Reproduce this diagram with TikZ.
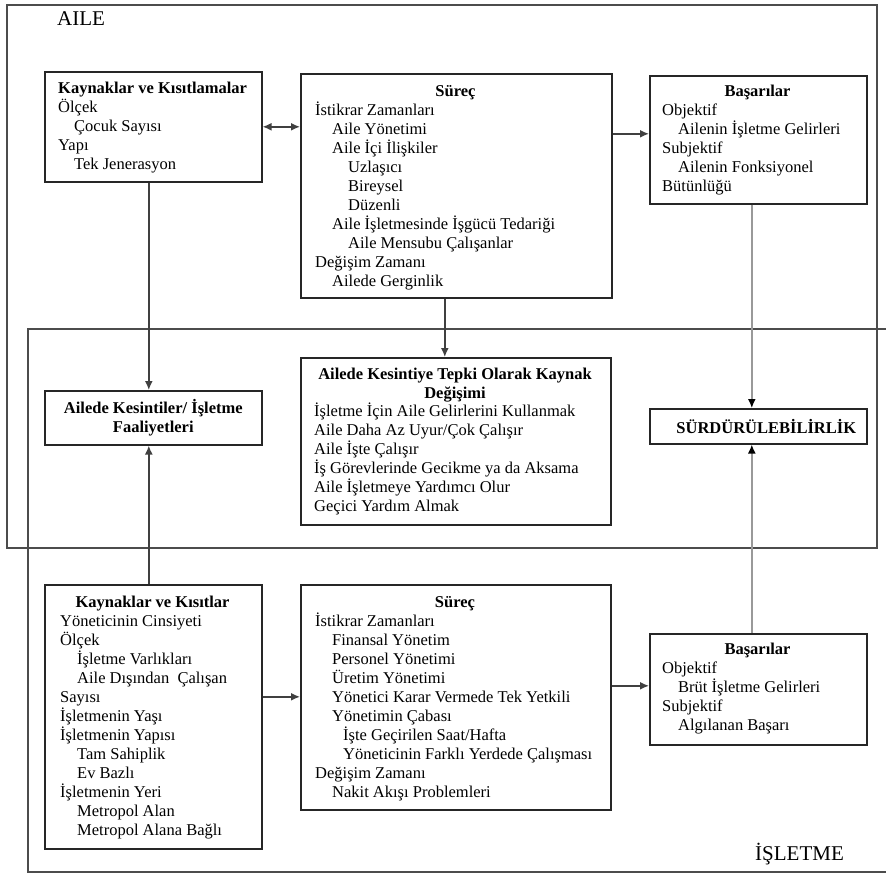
\documentclass[tikz,border=0pt]{standalone}
\usepackage{fontspec}
\setmainfont{Liberation Serif}
\usetikzlibrary{arrows.meta}
\newcommand\mystrut{\rule{0pt}{15pt}}
\newcommand\bodysize{\fontsize{16.5}{19}\selectfont}
\begin{document}
\begin{tikzpicture}[x=1pt,y=-1pt,
  box/.style={draw=black!85, line width=1.6pt, inner sep=0pt, anchor=north west},
  txt/.style={inner sep=0pt, anchor=north west, align=left, font=\bodysize},
  ttl/.style={inner sep=0pt, anchor=base, font=\bodysize\bfseries},
  frame/.style={draw=black!70, line width=1.5pt},
  conn/.style={draw=black!75, line width=1.5pt},
  arr/.style={conn, -{Latex[length=9pt,width=8pt]}},
  garr/.style={draw=black!40, line width=1.5pt, -{Latex[length=9pt,width=8pt,color=black]}},
  lbl/.style={inner sep=0pt, anchor=base west, font=\fontsize{21}{25}\selectfont}]
\useasboundingbox (0,0) rectangle (886,873);
% frames
\draw[frame] (7,5) rectangle (877,548);
\draw[frame] (890,329) -- (28,329) -- (28,872) -- (890,872);
\node[lbl] (aile) at (57,25) {AILE};
\node[lbl] (isletme) at (755,860) {İŞLETME};
% top row
\node[box, minimum width=217pt, minimum height=110pt] (A) at (44,71) {};
\node[txt] (At) at (58,78) {\mystrut\textbf{Kaynaklar ve Kısıtlamalar}\\ Ölçek\\ \hspace*{16pt}Çocuk Sayısı\\ Yapı\\ \hspace*{16pt}Tek Jenerasyon};
\node[box, minimum width=311pt, minimum height=224pt] (B) at (300,73) {};
\node[ttl] (Bh) at (455.5,96) {Süreç};
\node[txt] (Bt) at (315,100) {\mystrut İstikrar Zamanları\\ \hspace*{17pt}Aile Yönetimi\\ \hspace*{17pt}Aile İçi İlişkiler\\ \hspace*{33pt}Uzlaşıcı\\ \hspace*{33pt}Bireysel\\ \hspace*{33pt}Düzenli\\ \hspace*{17pt}Aile İşletmesinde İşgücü Tedariği\\ \hspace*{33pt}Aile Mensubu Çalışanlar\\ Değişim Zamanı\\ \hspace*{17pt}Ailede Gerginlik};
\node[box, minimum width=217pt, minimum height=128pt] (C) at (649,75) {};
\node[ttl] (Ch) at (757.5,96) {Başarılar};
\node[txt] (Ct) at (662,100) {\mystrut Objektif\\ \hspace*{16pt}Ailenin İşletme Gelirleri\\ Subjektif\\ \hspace*{16pt}Ailenin Fonksiyonel\\ Bütünlüğü};
% middle row
\node[box, minimum width=217pt, minimum height=54pt, align=center, font=\bodysize\bfseries] (D) at (44,390) {Ailede Kesintiler/ İşletme\\ Faaliyetleri};
\node[box, minimum width=310pt, minimum height=167pt] (E) at (300,357) {};
\node[txt, anchor=north, align=center, font=\bodysize\bfseries] (Eh) at (455,364) {\mystrut Ailede Kesintiye Tepki Olarak Kaynak\\ Değişimi};
\node[txt] (Et) at (314,401) {\mystrut İşletme İçin Aile Gelirlerini Kullanmak\\ Aile Daha Az Uyur/Çok Çalışır\\ Aile İşte Çalışır\\ İş Görevlerinde Gecikme ya da Aksama\\ Aile İşletmeye Yardımcı Olur\\ Geçici Yardım Almak};
\node[box, minimum width=217pt, minimum height=35pt, font=\bodysize\bfseries] (F) at (649,408) {\hspace*{16pt}SÜRDÜRÜLEBİLİRLİK};
% bottom row
\node[box, minimum width=217pt, minimum height=264pt] (G) at (44,584) {};
\node[ttl] (Gh) at (152.5,607) {Kaynaklar ve Kısıtlar};
\node[txt] (Gt) at (60,611) {\mystrut Yöneticinin Cinsiyeti\\ Ölçek\\ \hspace*{17pt}İşletme Varlıkları\\ \hspace*{17pt}Aile Dışından\ \ Çalışan\\ Sayısı\\ İşletmenin Yaşı\\ İşletmenin Yapısı\\ \hspace*{17pt}Tam Sahiplik\\ \hspace*{17pt}Ev Bazlı\\ İşletmenin Yeri\\ \hspace*{17pt}Metropol Alan\\ \hspace*{17pt}Metropol Alana Bağlı};
\node[box, minimum width=310pt, minimum height=225pt] (H) at (300,584) {};
\node[ttl] (Hh) at (455,607) {Süreç};
\node[txt] (Ht) at (315,611) {\mystrut İstikrar Zamanları\\ \hspace*{17pt}Finansal Yönetim\\ \hspace*{17pt}Personel Yönetimi\\ \hspace*{17pt}Üretim Yönetimi\\ \hspace*{17pt}Yönetici Karar Vermede Tek Yetkili\\ \hspace*{17pt}Yönetimin Çabası\\ \hspace*{28pt}İşte Geçirilen Saat/Hafta\\ \hspace*{28pt}Yöneticinin Farklı Yerdede Çalışması\\ Değişim Zamanı\\ \hspace*{17pt}Nakit Akışı Problemleri};
\node[box, minimum width=217pt, minimum height=111pt] (I) at (649,633) {};
\node[ttl] (Ih) at (757.5,654) {Başarılar};
\node[txt] (It) at (662,658) {\mystrut Objektif\\ \hspace*{16pt}Brüt İşletme Gelirleri\\ Subjektif\\ \hspace*{16pt}Algılanan Başarı};
% connectors
\draw[conn, {Latex[length=9pt,width=8pt]}-{Latex[length=9pt,width=8pt]}] (A.east) -- (A.east -| B.west);
\coordinate (cw) at ([yshift=6pt]C.west);
\draw[arr] (B.east |- cw) -- (cw);
\draw[arr] ([xshift=-4.5pt]A.south) -- ([xshift=-4.5pt]D.north);
\draw[arr] ([xshift=-4.5pt]G.north) -- ([xshift=-4.5pt]D.south);
\draw[arr] ([xshift=-11.5pt]B.south) -- ([xshift=-11.5pt]B.south |- E.north);
\draw[garr] ([xshift=-6.5pt]C.south) -- ([xshift=-6.5pt]F.north);
\draw[garr] ([xshift=-6.5pt]I.north) -- ([xshift=-6.5pt]F.south);
\coordinate (gh) at ([yshift=20pt]G.east);
\draw[arr] (gh) -- (gh -| H.west);
\coordinate (hi) at ([yshift=3.5pt]I.west);
\draw[arr] (H.east |- hi) -- (hi);
\end{tikzpicture}
\end{document}
